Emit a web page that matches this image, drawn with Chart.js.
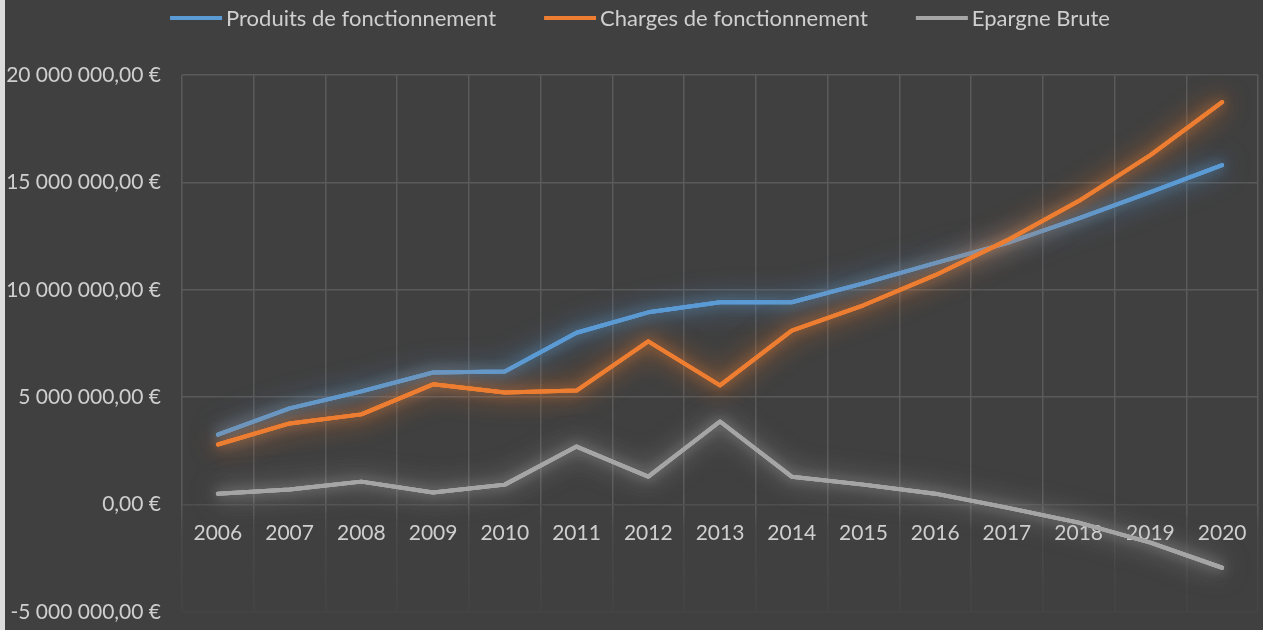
<!DOCTYPE html>
<html><head><meta charset="utf-8">
<script src="https://cdn.jsdelivr.net/npm/chart.js@4/dist/chart.umd.min.js"></script>
<style>
html,body{margin:0;padding:0;background:#404040;}
#wrap{position:absolute;left:0;top:0;width:1258px;height:630px;border-left:5px solid #dcdcdc;background:#404040;}
</style></head>
<body><div id="wrap"><canvas id="c" width="1258" height="630"></canvas></div>
<script>
const categories = ['2006','2007','2008','2009','2010','2011','2012','2013','2014','2015','2016','2017','2018','2019','2020'];
const produits = [3260000,4480000,5270000,6150000,6200000,8000000,8950000,9420000,9420000,10300000,11240000,12170000,13330000,14550000,15800000];
const charges = [2800000,3780000,4200000,5600000,5220000,5310000,7600000,5550000,8100000,9280000,10680000,12300000,14130000,16270000,18740000];
const epargne = [510000,700000,1070000,560000,930000,2700000,1300000,3870000,1300000,930000,510000,-140000,-840000,-1770000,-2940000];
const seriesNames = ['Produits de fonctionnement','Charges de fonctionnement','Epargne Brute'];
const seriesColors = ['#5b9bd5','#ed7d31','#a5a5a5'];
const glowColors = ['rgba(91,155,213,0.7)','rgba(237,125,49,0.7)','rgba(200,200,200,0.5)'];
const yMin = -5000000, yMax = 20000000, yStep = 5000000;

const FONT = 'Lato, Carlito, Calibri, sans-serif';
const TXT = '#cfcfcf';
const GRID = '#5a5a5a';

function fmt(v){
  const neg = v < 0;
  let s = Math.abs(Math.round(v)).toString();
  s = s.replace(/\B(?=(\d{3})+(?!\d))/g, ' ');
  return (neg ? '-' : '') + s + ',00 €';
}

const glow = {
  id: 'glow',
  beforeDatasetDraw(chart, args){
    const ctx = chart.ctx;
    const meta = args.meta;
    ctx.save();
    ctx.shadowColor = glowColors[args.index];
    ctx.shadowBlur = 28;
    meta.dataset.draw(ctx, chart.chartArea);
    meta.dataset.draw(ctx, chart.chartArea);
    ctx.shadowBlur = 12;
  },
  afterDatasetDraw(chart){ chart.ctx.restore(); }
};

const legendPlugin = {
  id: 'customLegend',
  afterDraw(chart){
    const ctx = chart.ctx;
    ctx.save();
    ctx.font = '22px ' + FONT;
    ctx.textBaseline = 'middle';
    const sw = 52, gapTxt = 4, gapItem = 48, y = 18;
    const widths = seriesNames.map(n => sw + gapTxt + ctx.measureText(n).width);
    const total = widths.reduce((a,b)=>a+b,0) + gapItem*(widths.length-1);
    let x = (chart.width - total)/2 + 6;
    seriesNames.forEach((n,i)=>{
      ctx.fillStyle = seriesColors[i];
      ctx.fillRect(x, y-2, sw, 4);
      ctx.fillStyle = TXT;
      ctx.fillText(n, x + sw + gapTxt, y+1);
      x += widths[i] + gapItem;
    });
    ctx.restore();
  }
};

function xGridColor(c){
  const chart = c.chart;
  const area = chart.chartArea;
  if (!area || !chart.scales.y) return GRID;
  const g = chart.ctx.createLinearGradient(0, area.top, 0, area.bottom);
  const z = (chart.scales.y.getPixelForValue(0) - area.top) / (area.bottom - area.top);
  g.addColorStop(0, GRID);
  g.addColorStop(Math.max(0, Math.min(1, z)), GRID);
  g.addColorStop(Math.min(1, z + 0.05), '#4a4a4a');
  g.addColorStop(1, '#444444');
  return g;
}

const ctx = document.getElementById('c').getContext('2d');
new Chart(ctx, {
  type: 'line',
  data: {
    labels: categories,
    datasets: [produits, charges, epargne].map((d,i)=>({
      label: seriesNames[i],
      data: d,
      borderColor: seriesColors[i],
      backgroundColor: seriesColors[i],
      borderWidth: 4,
      pointRadius: 0,
      tension: 0,
      borderCapStyle: 'round',
      borderJoinStyle: 'round',
      fill: false,
      order: 3 - i
    }))
  },
  options: {
    responsive: false,
    animation: false,
    events: [],
    layout: { padding: { top: 75, bottom: 18, right: 5, left: 0 } },
    plugins: { legend: { display: false }, tooltip: { enabled: false } },
    scales: {
      x: {
        type: 'category',
        position: { y: 0 },
        offset: true,
        afterFit(scale){ scale.height = 0; },
        grid: {
          offset: true,
          drawTicks: false,
          color: xGridColor,
          lineWidth: 1.5
        },
        border: { display: false },
        ticks: { color: TXT, font: { family: FONT, size: 21 }, padding: 16, maxRotation: 0, autoSkip: false }
      },
      y: {
        min: yMin, max: yMax,
        afterFit(scale){ scale.width = 177; scale.paddingBottom = 0; scale.paddingTop = 0; },
        grid: { drawTicks: false, color: (c)=> (c.tick && c.tick.value === yMin) ? '#444444' : (c.tick && c.tick.value === 0 ? '#505050' : GRID), lineWidth: 1.5 },
        border: { display: false },
        ticks: { stepSize: yStep, color: TXT, font: { family: FONT, size: 21 }, padding: 21, callback: (v)=>fmt(v) }
      }
    }
  },
  plugins: [glow, legendPlugin]
});
</script>
</body></html>
